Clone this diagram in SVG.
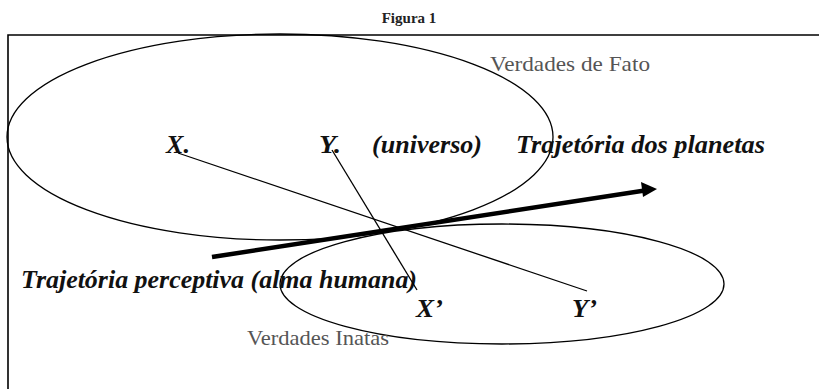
<svg xmlns="http://www.w3.org/2000/svg" width="819" height="389" viewBox="0 0 819 389">
<defs>
<style>
.title{font-family:"Liberation Serif","DejaVu Serif",serif;font-weight:bold;font-size:15px;fill:#222}
.lbl{font-family:"Liberation Serif","Times New Roman",serif;font-weight:bold;font-style:italic;font-size:26px;fill:#111}
.gray{font-family:"Liberation Serif","Times New Roman",serif;font-size:22px;fill:#555}
.thin{fill:none;stroke:#000;stroke-width:1.3}
</style>
</defs>
<rect width="819" height="389" fill="#fff"/>
<text class="title" x="409" y="23" text-anchor="middle">Figura 1</text>
<path d="M8,389 V35 H819" fill="none" stroke="#000" stroke-width="1.6"/>
<g id="verdades-fato">
<ellipse class="thin" cx="280" cy="137" rx="273" ry="103"/>
<text class="gray" x="490" y="71" textLength="160" lengthAdjust="spacingAndGlyphs">Verdades de Fato</text>
</g>
<g id="verdades-inatas">
<ellipse class="thin" cx="502" cy="284" rx="222" ry="60"/>
<text class="gray" x="247" y="345" textLength="142" lengthAdjust="spacingAndGlyphs">Verdades Inatas</text>
</g>
<g id="X"><text class="lbl" x="166" y="153" textLength="24" lengthAdjust="spacingAndGlyphs">X.</text></g>
<g id="Y"><text class="lbl" x="319" y="153" textLength="22" lengthAdjust="spacingAndGlyphs">Y.</text></g>
<g id="universo"><text class="lbl" x="372" y="153" textLength="110" lengthAdjust="spacingAndGlyphs">(universo)</text></g>
<g id="planetas"><text class="lbl" x="516" y="153" textLength="249" lengthAdjust="spacingAndGlyphs">Trajetória dos planetas</text></g>
<g id="perceptiva"><text class="lbl" x="21" y="288" textLength="396" lengthAdjust="spacingAndGlyphs">Trajetória perceptiva (alma humana)</text></g>
<g id="X2"><text class="lbl" x="416" y="317" textLength="27" lengthAdjust="spacingAndGlyphs">X’</text></g>
<g id="Y2"><text class="lbl" x="572" y="317" textLength="25" lengthAdjust="spacingAndGlyphs">Y’</text></g>
<g id="connectors">
<line class="thin" x1="178" y1="153" x2="587" y2="291"/>
<line class="thin" x1="332" y1="150" x2="417" y2="290"/>
<line x1="212" y1="257" x2="648" y2="190" stroke="#000" stroke-width="4.5"/>
<path d="M641,182 L657,189 L643,197 Z" fill="#000"/>
</g>
</svg>
